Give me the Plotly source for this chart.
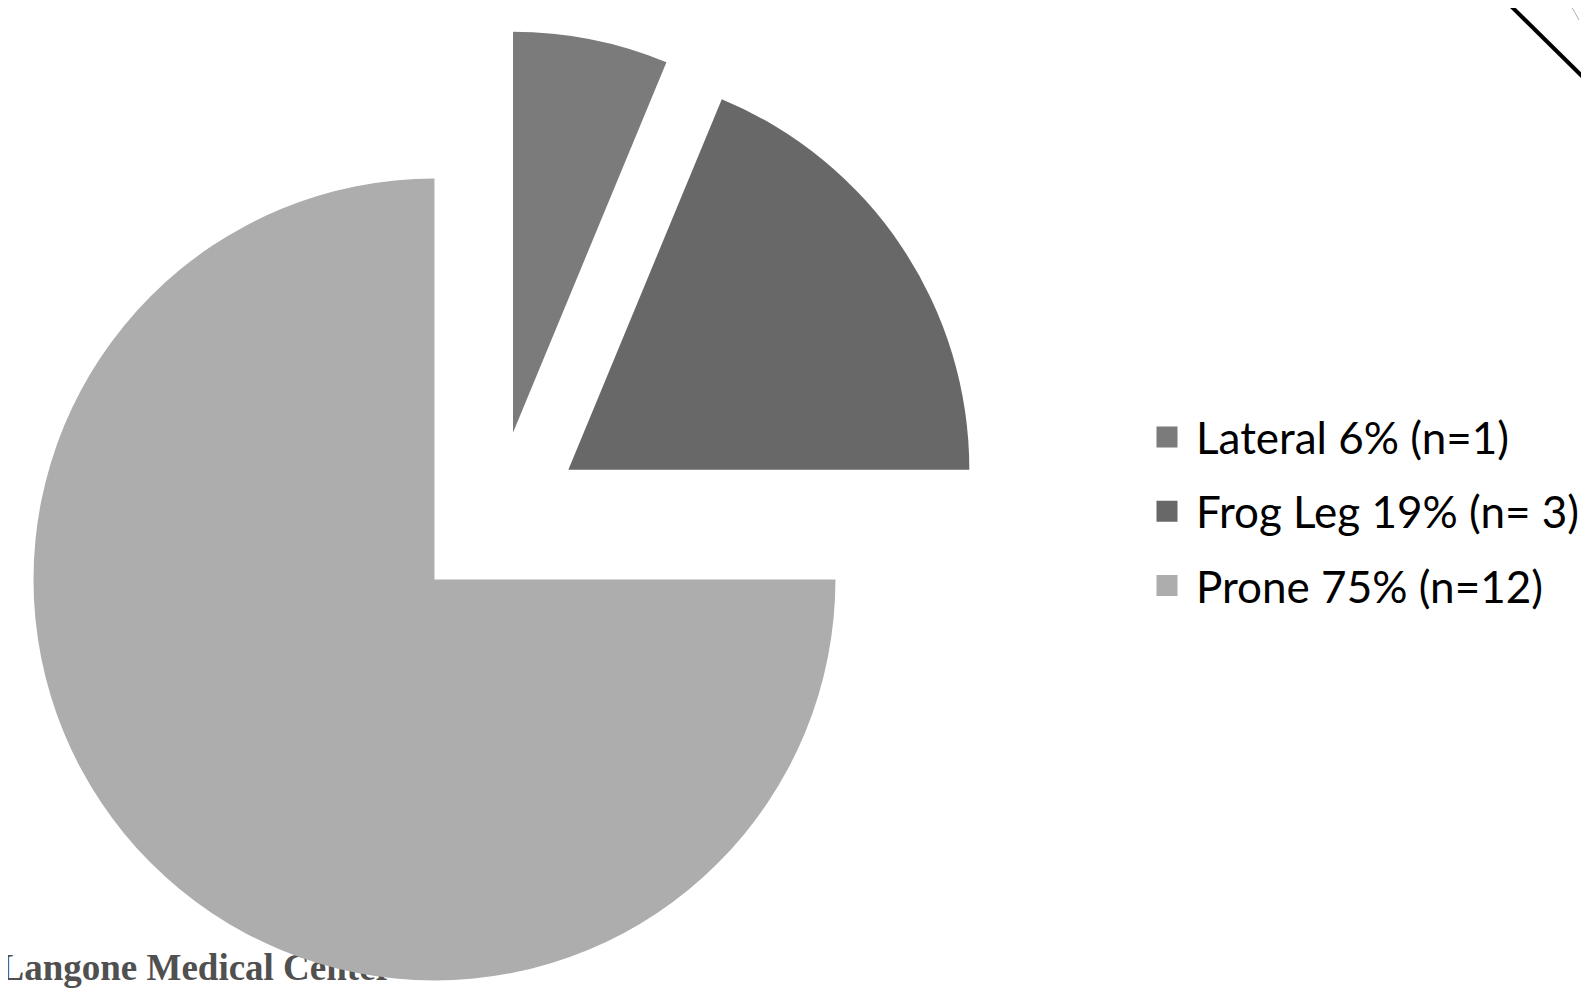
import plotly.graph_objects as go

# ---- data ----
labels = ["Lateral 6% (n=1)", "Frog Leg 19% (n= 3)", "Prone 75% (n=12)"]
counts = [1, 3, 12]
colors = ["#7b7b7b", "#686868", "#adadad"]
pulls = [0.217, 0.217, 0.217]
footer_text = "<b>Langone Medical Center</b>"

# ---- layout geometry (figure pixels) ----
FIG_W, FIG_H = 1589, 998
M_T = 22
PIE_BOX = 976
PLOT_H = FIG_H - M_T


def px_x(px):
    return px / FIG_W


def px_y(py):
    return 1 - (py - M_T) / PLOT_H


fig = go.Figure()

# background slide text (sits under the pie)
fig.add_trace(
    go.Scatter(
        x=[384],
        y=[963],
        mode="text",
        text=[footer_text],
        textposition="middle left",
        textfont=dict(family="Liberation Serif", size=37, color="#505050"),
        hoverinfo="skip",
        showlegend=False,
        cliponaxis=True,
    )
)

fig.add_trace(
    go.Pie(
        labels=labels,
        values=counts,
        sort=False,
        direction="clockwise",
        rotation=0,
        pull=pulls,
        marker=dict(colors=colors, line=dict(width=0)),
        textinfo="none",
        hoverinfo="label",
        showlegend=False,
        domain=dict(x=[0, PIE_BOX / FIG_W], y=[0, 1]),
    )
)

# legend entries (one per slice, same colours)
for lab, col in zip(labels, colors):
    fig.add_trace(
        go.Scatter(
            x=[None],
            y=[None],
            mode="markers",
            name=lab,
            legendgroup=lab,
            marker=dict(symbol="square", size=16, color=col, line=dict(color=col, width=5)),
            hoverinfo="skip",
            showlegend=True,
        )
    )

fig.update_layout(
    width=FIG_W,
    height=FIG_H,
    autosize=False,
    margin=dict(l=0, r=0, t=M_T, b=0, pad=0),
    paper_bgcolor="white",
    plot_bgcolor="rgba(0,0,0,0)",
    xaxis=dict(visible=False, range=[0, FIG_W], domain=[0, 1]),
    yaxis=dict(visible=False, range=[FIG_H, M_T], domain=[0, 1]),
    showlegend=True,
    legend=dict(
        x=px_x(1130),
        y=px_y(394),
        xanchor="left",
        yanchor="top",
        traceorder="grouped",
        tracegroupgap=14,
        itemsizing="trace",
        itemwidth=48,
        font=dict(family="Lato", size=44, color="black"),
        bgcolor="rgba(0,0,0,0)",
        borderwidth=0,
    ),
    shapes=[
        dict(
            type="line",
            xref="paper",
            yref="paper",
            x0=px_x(1480),
            y0=px_y(-24.6),
            x1=px_x(1623),
            y1=px_y(116.5),
            line=dict(color="black", width=4),
        ),
        dict(
            type="line",
            xref="paper",
            yref="paper",
            x0=px_x(1556),
            y0=px_y(-15),
            x1=px_x(1571),
            y1=px_y(12),
            line=dict(color="#b0b0b0", width=1),
        ),
    ],
)

fig.write_html("out.html")
